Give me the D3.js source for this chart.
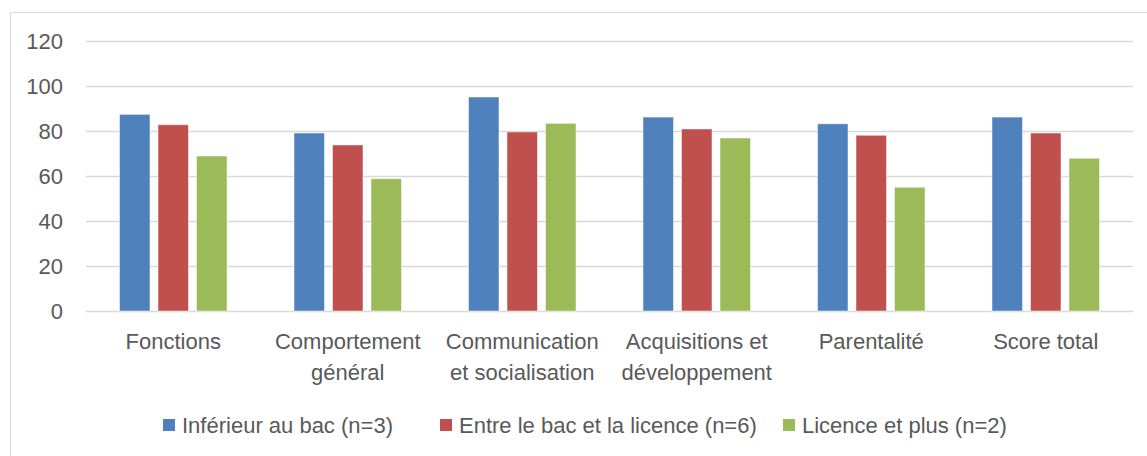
<!DOCTYPE html>
<html>
<head>
<meta charset="utf-8">
<script src="https://cdn.jsdelivr.net/npm/d3@7"></script>
<style>
  body { margin: 0; background: #fff; }
  text { font-family: "Liberation Sans", Arial, sans-serif; fill: #595959; }
</style>
</head>
<body>
<svg id="chart" width="1147" height="456"></svg>
<script>
// categories on the x axis (two-line labels split on "|")
const categories = ["Fonctions", "Comportement|général", "Communication|et socialisation",
    "Acquisitions et|développement", "Parentalité", "Score total"];
const seriesNames = ["Inférieur au bac (n=3)", "Entre le bac et la licence (n=6)", "Licence et plus (n=2)"];
const inferieurBac = [87.4, 79.1, 95.1, 86.2, 83.2, 86.2];
const entreBacLicence = [82.8, 73.8, 79.6, 80.9, 78.1, 79.1];
const licencePlus = [68.9, 58.8, 83.4, 76.9, 55.0, 67.9];
const yTicks = [0, 20, 40, 60, 80, 100, 120];
const colors = ["#4f81bd", "#c0504d", "#9bbb59"];

const series = [inferieurBac, entreBacLicence, licencePlus];

const svg = d3.select("#chart");

// outer frame
svg.append("rect")
    .attr("x", 10.5).attr("y", 12.5)
    .attr("width", 1160).attr("height", 470)
    .attr("fill", "none")
    .attr("stroke", "#d9d9d9");

const plotLeft = 86, plotRight = 1133, plotTop = 41, plotBottom = 311;
const fontSize = 22;

const x = d3.scaleBand().domain(categories).range([plotLeft, plotRight]);
const xs = d3.scaleBand().domain(d3.range(series.length))
    .range([0, x.bandwidth()]).paddingInner(0.208).paddingOuter(0.87);
const y = d3.scaleLinear().domain([0, 120]).range([plotBottom, plotTop]);

// gridlines
svg.append("g")
    .selectAll("line")
    .data(yTicks)
    .join("line")
    .attr("x1", plotLeft).attr("x2", plotRight)
    .attr("y1", d => Math.round(y(d)) + 0.5)
    .attr("y2", d => Math.round(y(d)) + 0.5)
    .attr("stroke", "#d9d9d9")
    .attr("stroke-width", 1.5);

// y tick labels
const yAxis = svg.append("g")
    .attr("transform", `translate(${plotLeft - 23},0)`)
    .call(d3.axisLeft(y).tickValues(yTicks).tickSize(0).tickPadding(0));
yAxis.select(".domain").remove();
yAxis.selectAll("text")
    .attr("font-size", fontSize)
    .attr("fill", "#595959")
    .style("font-family", "'Liberation Sans', Arial, sans-serif");

// bars
for (let s = 0; s < series.length; s++) {
    svg.append("g")
        .selectAll("rect")
        .data(series[s])
        .join("rect")
        .attr("x", (d, i) => x(categories[i]) + xs(s))
        .attr("y", d => y(d))
        .attr("width", xs.bandwidth())
        .attr("height", d => y(0) - y(d))
        .attr("fill", colors[s])
        .attr("stroke", "rgba(255,255,255,0.5)")
        .attr("stroke-width", 1);
}

// category labels
const catLabels = svg.append("g")
    .selectAll("text")
    .data(categories)
    .join("text")
    .attr("x", d => x(d) + x.bandwidth() / 2)
    .attr("y", 349)
    .attr("text-anchor", "middle")
    .attr("font-size", fontSize);
catLabels.each(function(d) {
    const lines = d.split("|");
    d3.select(this).selectAll("tspan")
        .data(lines)
        .join("tspan")
        .attr("x", x(d) + x.bandwidth() / 2)
        .attr("dy", (l, i) => i == 0 ? 0 : 31)
        .text(l => l);
});

// legend
const legendX = [163, 440, 783];
const legend = svg.append("g");
for (let s = 0; s < seriesNames.length; s++) {
    legend.append("rect")
        .attr("x", legendX[s]).attr("y", 419)
        .attr("width", 12).attr("height", 12)
        .attr("fill", colors[s]);
    legend.append("text")
        .attr("x", legendX[s] + 19).attr("y", 433)
        .attr("font-size", fontSize)
        .text(seriesNames[s]);
}
</script>
</body>
</html>
